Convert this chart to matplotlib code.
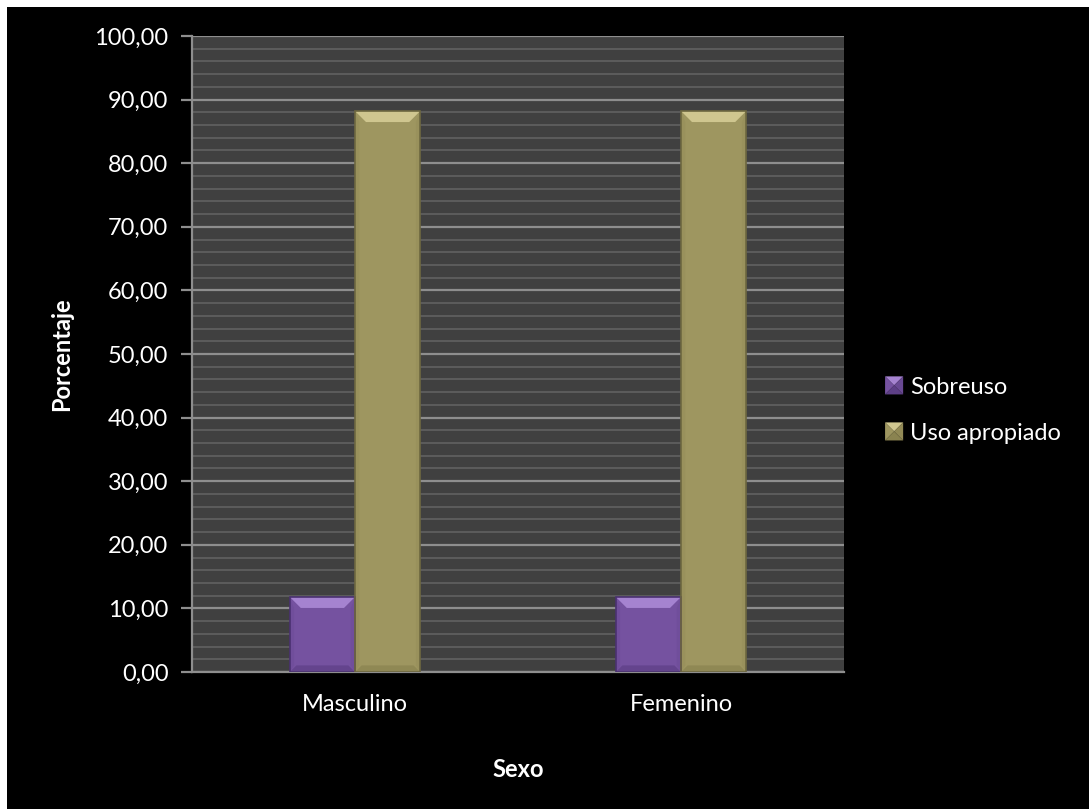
import matplotlib
matplotlib.use("Agg")
import matplotlib.pyplot as plt
from matplotlib.patches import Polygon, Rectangle
from matplotlib.legend_handler import HandlerBase
from matplotlib.ticker import MultipleLocator, FuncFormatter
import numpy as np

# Data
categories = ["Masculino", "Femenino"]
sobreuso = [11.8, 11.8]
uso_apropiado = [88.2, 88.2]
series_names = ["Sobreuso", "Uso apropiado"]

plt.rcParams['font.family'] = ['Lato', 'DejaVu Sans']

W, H = 1089, 809
fig = plt.figure(figsize=(W / 100, H / 100), dpi=100, facecolor="white")
# black canvas with a thin light margin along the top and left edges
fig.patches.append(Rectangle((7 / W, 0), 1, 1 - 7 / H, transform=fig.transFigure,
                             facecolor="black", edgecolor="none", zorder=-10))

ax = fig.add_axes([192 / W, (H - 672) / H, 652 / W, 636 / H])
ax.set_facecolor("#404040")

styles = {
    "Sobreuso": dict(face="#7552a0", top="#a583d0", bottom="#5d3f86", side="#694993", edge="#4a3170"),
    "Uso apropiado": dict(face="#9e9660", top="#cfc68f", bottom="#8a8350", side="#928a56", edge="#6d6740"),
}

x = np.arange(len(categories))
bw = 0.2
ax.set_xlim(-0.5, len(categories) - 0.5)
ax.set_ylim(0, 100)

ax.yaxis.set_major_locator(MultipleLocator(10))
ax.yaxis.set_minor_locator(MultipleLocator(2))
ax.yaxis.set_major_formatter(FuncFormatter(lambda v, p: f"{v:.2f}".replace(".", ",")))
ax.grid(which="minor", axis="y", color="#5e5e5e", linewidth=1.3, zorder=0)
ax.grid(which="major", axis="y", color="#8e8e8e", linewidth=1.6, zorder=0)
ax.set_axisbelow(True)

for s in ["top", "right"]:
    ax.spines[s].set_visible(False)
for s in ["left", "bottom"]:
    ax.spines[s].set_color("#8e8e8e")
    ax.spines[s].set_linewidth(1.6)

ax.tick_params(axis="y", which="major", length=8, width=1.6, color="#8e8e8e",
               labelcolor="white", labelsize=17, pad=9)
ax.tick_params(axis="y", which="minor", length=0)
ax.tick_params(axis="x", length=0, labelcolor="white", labelsize=17, pad=16)
ax.set_xticks(x)
ax.set_xticklabels(categories)

ax.set_ylabel("Porcentaje", color="white", fontsize=17, fontweight="bold", labelpad=15)
ax.set_xlabel("Sexo", color="white", fontsize=17, fontweight="bold", labelpad=31)

# pixel -> data conversion for bevel sizes
px_x = (len(categories)) / 652.0
px_y = 100.0 / 636.0
bev = 11


def draw_bevel_bar(xc, h, st):
    x0, x1 = xc - bw / 2, xc + bw / 2
    bx, by = bev * px_x, bev * px_y
    ax.add_patch(Rectangle((x0, 0), bw, h, facecolor=st["face"], edgecolor="none", zorder=2))
    # top bevel
    ax.add_patch(Polygon([(x0, h), (x1, h), (x1 - bx, h - by), (x0 + bx, h - by)],
                         closed=True, facecolor=st["top"], edgecolor="none", zorder=3))
    # bottom bevel
    ax.add_patch(Polygon([(x0, 0), (x1, 0), (x1 - bx * 0.6, by * 0.6), (x0 + bx * 0.6, by * 0.6)],
                         closed=True, facecolor=st["bottom"], edgecolor="none", zorder=3, alpha=0.7))
    # side bevels
    ax.add_patch(Polygon([(x0, 0), (x0 + bx * 0.4, by * 0.6), (x0 + bx * 0.4, h - by), (x0, h)],
                         closed=True, facecolor=st["side"], edgecolor="none", zorder=3, alpha=0.35))
    ax.add_patch(Polygon([(x1, 0), (x1 - bx * 0.4, by * 0.6), (x1 - bx * 0.4, h - by), (x1, h)],
                         closed=True, facecolor=st["side"], edgecolor="none", zorder=3, alpha=0.35))
    ax.add_patch(Rectangle((x0, 0), bw, h, facecolor="none", edgecolor=st["edge"],
                           linewidth=1.2, zorder=4))


for i in range(len(categories)):
    draw_bevel_bar(x[i] - bw / 2, sobreuso[i], styles["Sobreuso"])
    draw_bevel_bar(x[i] + bw / 2, uso_apropiado[i], styles["Uso apropiado"])


class PyramidHandler(HandlerBase):
    def __init__(self, st):
        super().__init__()
        self.st = st

    def create_artists(self, legend, orig_handle, xdescent, ydescent, width, height, fontsize, trans):
        s = min(width, height) * 1.0
        cx = -xdescent + width - s / 2
        cy = -ydescent + height / 2
        a, b = cx - s / 2, cx + s / 2
        lo, hi = cy - s / 2, cy + s / 2
        st = self.st
        tris = [
            ([(a, hi), (b, hi), (cx, cy)], st["top"]),
            ([(a, lo), (b, lo), (cx, cy)], st["bottom"]),
            ([(a, lo), (a, hi), (cx, cy)], st["face"]),
            ([(b, lo), (b, hi), (cx, cy)], st["side"]),
        ]
        arts = []
        for pts, c in tris:
            p = Polygon(pts, closed=True, facecolor=c, edgecolor="none", transform=trans)
            arts.append(p)
        return arts


handles = [Rectangle((0, 0), 1, 1) for _ in series_names]
leg = fig.legend(handles, series_names, loc="center left",
                 bbox_to_anchor=(863 / W, 1 - 410 / H), frameon=False,
                 handler_map={handles[0]: PyramidHandler(styles["Sobreuso"]),
                              handles[1]: PyramidHandler(styles["Uso apropiado"])},
                 fontsize=17, labelcolor="white", handlelength=0.8, handleheight=0.8,
                 handletextpad=0.3, labelspacing=1.05)

fig.savefig("out.png", dpi=100, facecolor=fig.get_facecolor())
